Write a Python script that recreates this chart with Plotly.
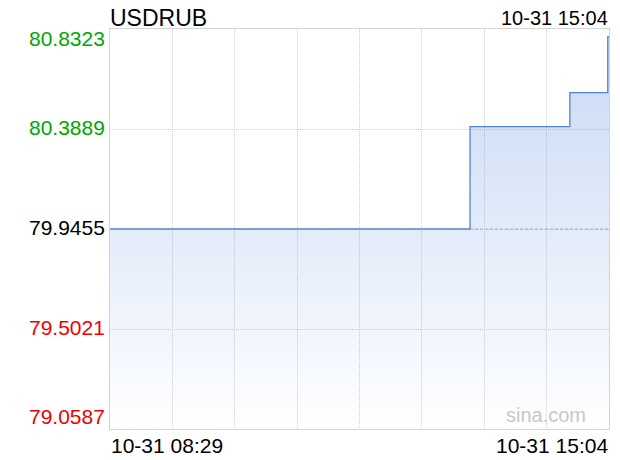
import plotly.graph_objects as go

# 分時データ（ステップ状）
times = [
    "2025-10-31 08:29",
    "2025-10-31 13:14",
    "2025-10-31 14:33",
    "2025-10-31 15:03",
    "2025-10-31 15:04",
]
prices = [79.9455, 80.3995, 80.5503, 80.7986, 80.7986]

prev_close = 79.9455
y_ticks = [80.8323, 80.3889, 79.9455, 79.5021, 79.0587]
y_tick_labels = ["80.8323", "80.3889", "79.9455", "79.5021", "79.0587"]

x_start = "2025-10-31 08:29"
x_end = "2025-10-31 15:04"
x_labels = ["10-31 08:29", "10-31 15:04"]

title_text = "USDRUB"
time_text = "10-31 15:04"
watermark = "sina.com"

font_family = "Liberation Sans, Arial, sans-serif"
y_min = min(y_ticks)
y_max = max(y_ticks)

fig = go.Figure()

# 塗りつぶしの下端（軸の最小値）
fig.add_trace(
    go.Scatter(
        x=times,
        y=[y_min] * len(times),
        mode="lines",
        line=dict(width=0, shape="hv"),
        hoverinfo="skip",
        showlegend=False,
    )
)

# 価格ライン + グラデーション塗りつぶし
fig.add_trace(
    go.Scatter(
        x=times,
        y=prices,
        mode="lines",
        line=dict(color="#4f84d6", width=1.3, shape="hv"),
        fill="tonexty",
        fillgradient=dict(
            type="vertical",
            start=y_min,
            stop=y_max,
            colorscale=[[0, "rgba(90,140,225,0.0)"], [1, "rgba(90,140,225,0.34)"]],
        ),
        showlegend=False,
    )
)

# 前日終値の点線
fig.add_trace(
    go.Scatter(
        x=[x_start, x_end],
        y=[prev_close, prev_close],
        mode="lines",
        line=dict(color="rgba(150,160,180,0.8)", width=1, dash="3px,2px"),
        hoverinfo="skip",
        showlegend=False,
    )
)

annotations = []

# y 軸ラベル（色分け）
label_shift = {0: -9, 4: 13}
for i, (v, t) in enumerate(zip(y_ticks, y_tick_labels)):
    if v > prev_close:
        color = "#00a800"
    elif v < prev_close:
        color = "#f00000"
    else:
        color = "#000000"
    annotations.append(
        dict(
            x=0, xref="paper", xanchor="right", xshift=-3,
            y=v, yref="y", yanchor="middle", yshift=label_shift.get(i, 2),
            text=t, showarrow=False,
            font=dict(family=font_family, size=21, color=color),
        )
    )

# x 軸ラベル
annotations.append(
    dict(
        x=0, xref="paper", xanchor="left", xshift=-1,
        y=0, yref="paper", yanchor="top", yshift=-3,
        text=x_labels[0], showarrow=False,
        font=dict(family=font_family, size=21, color="#000"),
    )
)
annotations.append(
    dict(
        x=1, xref="paper", xanchor="right", xshift=1,
        y=0, yref="paper", yanchor="top", yshift=-3,
        text=x_labels[1], showarrow=False,
        font=dict(family=font_family, size=21, color="#000"),
    )
)

# タイトルと時刻
annotations.append(
    dict(
        x=0, xref="paper", xanchor="left", xshift=-2,
        y=1, yref="paper", yanchor="bottom", yshift=-4,
        text=title_text, showarrow=False,
        font=dict(family=font_family, size=23, color="#000"),
    )
)
annotations.append(
    dict(
        x=1, xref="paper", xanchor="right", xshift=1,
        y=1, yref="paper", yanchor="bottom", yshift=-2,
        text=time_text, showarrow=False,
        font=dict(family=font_family, size=20, color="#000"),
    )
)

# ウォーターマーク
annotations.append(
    dict(
        x=0.958, xref="paper", xanchor="right",
        y=0.035, yref="paper", yanchor="middle",
        text=watermark, showarrow=False,
        font=dict(family=font_family, size=20, color="#c8c8c8"),
    )
)

# ページ余白 8px を考慮したサイズ
fig.update_layout(
    width=612,
    height=452,
    margin=dict(l=102, r=11, t=21, b=31),
    paper_bgcolor="white",
    plot_bgcolor="white",
    annotations=annotations,
    xaxis=dict(
        type="date",
        range=[x_start, x_end],
        tick0=x_start,
        dtick=395 * 60 * 1000 / 8,
        showticklabels=False,
        ticks="",
        showgrid=True,
        gridcolor="#cfcfcf",
        griddash="1px,1px",
        gridwidth=1,
        showline=True,
        linecolor="#d4d4d4",
        linewidth=1,
        mirror=True,
        zeroline=False,
    ),
    yaxis=dict(
        range=[y_min, y_max],
        tickvals=y_ticks,
        showticklabels=False,
        ticks="",
        showgrid=True,
        gridcolor="#cfcfcf",
        griddash="1px,1px",
        gridwidth=1,
        showline=True,
        linecolor="#d4d4d4",
        linewidth=1,
        mirror=True,
        zeroline=False,
    ),
)

fig.write_html("out.html")
